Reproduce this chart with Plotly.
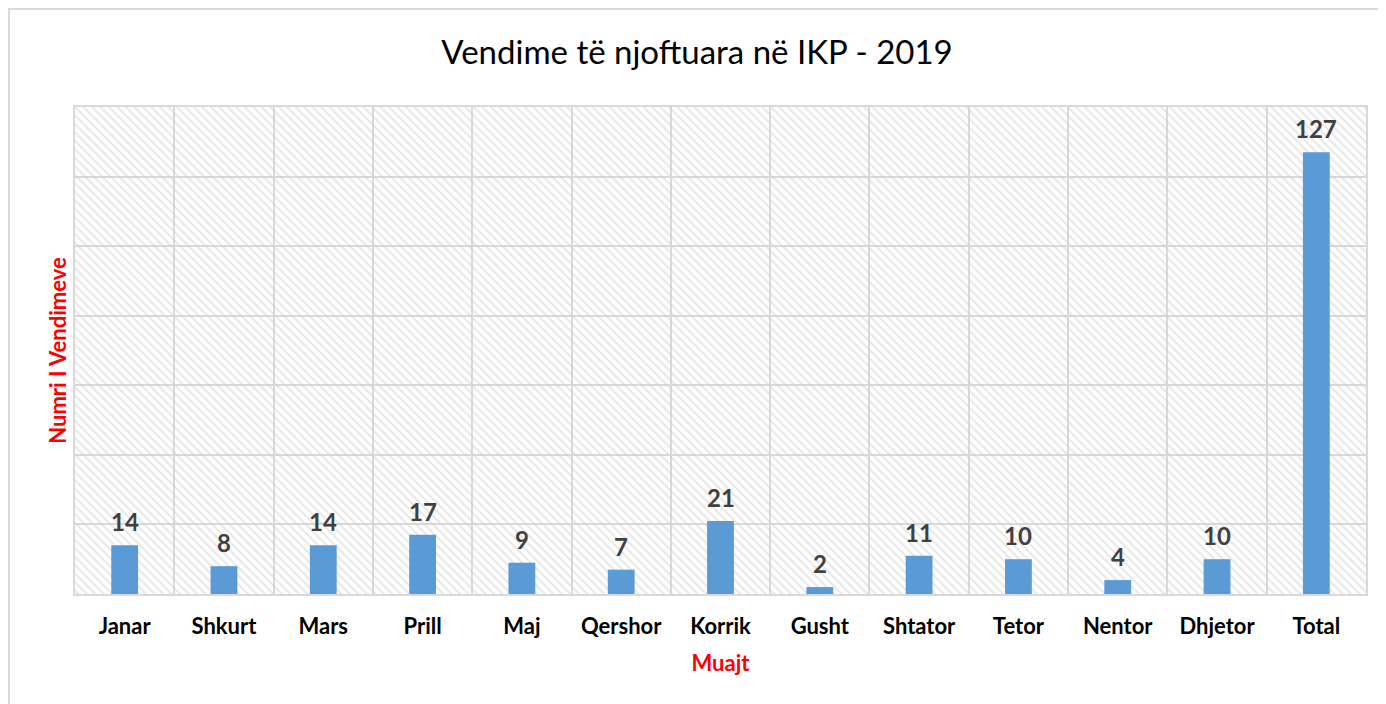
import plotly.graph_objects as go

categories = ["Janar", "Shkurt", "Mars", "Prill", "Maj", "Qershor", "Korrik",
              "Gusht", "Shtator", "Tetor", "Nentor", "Dhjetor", "Total"]
values = [14, 8, 14, 17, 9, 7, 21, 2, 11, 10, 4, 10, 127]
y_max = 140

# the page adds an 8px body margin, so the figure is drawn 8px smaller
OFF = 8
W, H = 1386 - OFF, 704 - OFF
L, R, T, B = 75 - OFF, 20, 107 - OFF, 110
pw, ph = W - L - R, H - T - B

fig = go.Figure()

# hatched plot background
fig.add_trace(go.Bar(
    x=categories, y=[y_max] * len(categories), width=1,
    marker=dict(color="rgba(0,0,0,0)", line=dict(width=0),
                pattern=dict(shape="\\", fgcolor="#d0d0d0", bgcolor="rgba(255,255,255,0)",
                             size=6, solidity=0.35)),
    hoverinfo="skip", showlegend=False,
))

fig.add_trace(go.Bar(
    x=categories, y=values, width=0.27,
    marker=dict(color="#5B9BD5", line=dict(width=0)),
    hoverinfo="x+y", showlegend=False,
))

for c, v in zip(categories, values):
    fig.add_annotation(x=c, y=v, text=str(v), showarrow=False,
                       xanchor="center", yanchor="bottom", yshift=7,
                       font=dict(family="Lato", size=24, color="#404040", weight="bold"))

fig.update_layout(
    width=W, height=H,
    margin=dict(l=L, r=R, t=T, b=B),
    paper_bgcolor="white", plot_bgcolor="white",
    barmode="overlay",
    font=dict(family="Lato", color="black"),
    title=dict(text="Vendime të njoftuara në IKP - 2019", x=0.5, xanchor="center",
               y=1 - (52 - OFF) / H, yanchor="middle",
               font=dict(family="Lato", size=33, color="black")),
)

fig.update_xaxes(
    type="category", tickson="boundaries", showgrid=True, gridcolor="#d9d9d9", gridwidth=2,
    showline=True, linecolor="#d9d9d9", linewidth=2, mirror=True,
    ticks="", tickfont=dict(family="Lato", size=22, color="black", weight="bold"),
    ticklabelstandoff=12,
    title=dict(text="Muajt", font=dict(family="Lato", size=22, color="red", weight="bold"),
               standoff=17),
)
fig.update_yaxes(
    range=[0, y_max], dtick=20, showgrid=True, gridcolor="#d9d9d9", gridwidth=2,
    showline=True, linecolor="#d9d9d9", linewidth=2, mirror=True,
    showticklabels=False, ticks="", zeroline=False,
    title=dict(text="Numri I Vendimeve",
               font=dict(family="Lato", size=22, color="red", weight="bold"), standoff=0),
)

# outer chart border (left and top visible)
fig.add_shape(type="rect", xref="paper", yref="paper",
              x0=(8 - OFF - L + 1) / pw, x1=(W + 20 - L) / pw,
              y0=-(H + 20 - T - ph) / ph, y1=1 + (T - (8 - OFF) - 1) / ph,
              line=dict(color="#d9d9d9", width=2), layer="below")

fig.write_html("out.html")
